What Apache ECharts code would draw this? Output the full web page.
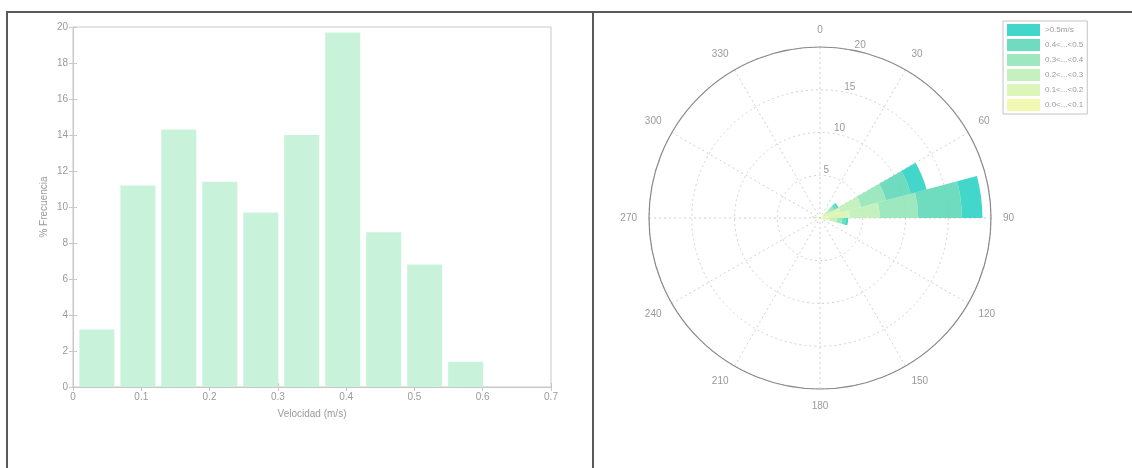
<!DOCTYPE html>
<html>
<head>
<meta charset="utf-8">
<script src="https://cdn.jsdelivr.net/npm/echarts@6/dist/echarts.min.js"></script>
<style>
  html, body { margin: 0; padding: 0; background: #ffffff; }
  #chart { width: 1132px; height: 468px; }
</style>
</head>
<body>
<div id="chart"></div>
<script>
// Histogram: speed bin centres (m/s) and percentage frequency
const speedBins = [0.035, 0.095, 0.155, 0.215, 0.275, 0.335, 0.395, 0.455, 0.515, 0.575];
const freqPct = [3.2, 11.2, 14.3, 11.4, 9.7, 14.0, 19.7, 8.6, 6.8, 1.4];

// Wind rose: 15-degree direction sectors
const directions = ['0', '15', '30', '45', '60', '75', '90', '105', '120', '135', '150', '165',
                    '180', '195', '210', '225', '240', '255', '270', '285', '300', '315', '330', '345'];
// Speed classes, innermost first (stacked outward)
const classNames = ['0.0<...<0.1', '0.1<...<0.2', '0.2<...<0.3', '0.3<...<0.4', '0.4<...<0.5', '>0.5m/s'];
const cls00to01 = [0, 0, 0, 0.2, 0.5, 1.0, 0.3, 0, 0, 0, 0, 0, 0, 0, 0, 0, 0, 0, 0.4, 0, 0, 0, 0, 0];
const cls01to02 = [0, 0, 0, 0.6, 2.0, 2.5, 0.9, 0, 0, 0, 0, 0, 0, 0, 0, 0, 0, 0, 0.3, 0, 0, 0, 0, 0];
const cls02to03 = [0, 0, 0, 0.6, 2.5, 3.5, 0.8, 0, 0, 0, 0, 0, 0, 0, 0, 0, 0, 0, 0.2, 0, 0, 0, 0, 0];
const cls03to04 = [0, 0, 0, 0.5, 3.0, 4.5, 0.6, 0, 0, 0, 0, 0, 0, 0, 0, 0, 0, 0, 0, 0, 0, 0, 0, 0];
const cls04to05 = [0, 0, 0, 0.4, 3.0, 5.1, 0.4, 0, 0, 0, 0, 0, 0, 0, 0, 0, 0, 0, 0, 0, 0, 0, 0, 0];
const cls05up   = [0, 0, 0, 0.2, 1.9, 2.4, 0.3, 0, 0, 0, 0, 0, 0, 0, 0, 0, 0, 0, 0, 0, 0, 0, 0, 0];
const classValues = [cls00to01, cls01to02, cls02to03, cls03to04, cls04to05, cls05up];
const classColors = ['#eef7a8', '#d8f4b0', '#bff0b8', '#93e5b8', '#5fd8b8', '#2fd1c4'];

const textGray = '#9a9a9a';
const font = 'Liberation Sans';
const roseCenter = [820, 218];
const roseRadius = 171;

const chart = echarts.init(document.getElementById('chart'), null, { renderer: 'canvas' });

const roseSeries = classNames.map((name, i) => ({
  name: name,
  type: 'bar',
  coordinateSystem: 'polar',
  polarIndex: 1,
  stack: 'rose',
  barCategoryGap: '0%',
  itemStyle: { color: classColors[i], opacity: 0.9 },
  emphasis: { disabled: true },
  data: classValues[i]
}));

chart.setOption({
  animation: false,
  textStyle: { fontFamily: font },
  graphic: [
    { type: 'line', shape: { x1: 6, y1: 12, x2: 1132, y2: 12 }, style: { stroke: '#5a5a5a', lineWidth: 2 } },
    { type: 'line', shape: { x1: 7, y1: 12, x2: 7, y2: 468 }, style: { stroke: '#5a5a5a', lineWidth: 2 } },
    { type: 'line', shape: { x1: 593, y1: 12, x2: 593, y2: 468 }, style: { stroke: '#5a5a5a', lineWidth: 2 } }
  ],
  grid: {
    left: 73, right: 581, top: 27, bottom: 81,
    show: true, borderColor: '#c8c8c8', borderWidth: 1
  },
  xAxis: [
    {
      type: 'value', min: 0, max: 0.7, interval: 0.1,
      name: 'Velocidad (m/s)', nameLocation: 'middle', nameGap: 22,
      nameTextStyle: { color: textGray, fontSize: 10, fontFamily: font },
      axisLine: { show: true, lineStyle: { color: '#c8c8c8' } },
      axisTick: { show: true, inside: true, length: 4, lineStyle: { color: '#c8c8c8' } },
      axisLabel: { color: textGray, fontSize: 10, margin: 5 },
      splitLine: { show: false }
    },
    {
      type: 'value', min: 0, max: 0.7, interval: 0.1, position: 'top',
      axisLine: { show: false },
      axisTick: { show: true, inside: true, length: 4, lineStyle: { color: '#c8c8c8' } },
      axisLabel: { show: false }, splitLine: { show: false }
    }
  ],
  yAxis: [
    {
      type: 'value', min: 0, max: 20, interval: 2,
      name: '% Frecuencia', nameLocation: 'middle', nameGap: 24,
      nameTextStyle: { color: textGray, fontSize: 10, fontFamily: font },
      axisLine: { show: true, lineStyle: { color: '#c8c8c8' } },
      axisTick: { show: true, inside: true, length: 4, lineStyle: { color: '#c8c8c8' } },
      axisLabel: { color: textGray, fontSize: 10, margin: 5 },
      splitLine: { show: false }
    },
    {
      type: 'value', min: 0, max: 20, interval: 2, position: 'right',
      axisLine: { show: false },
      axisTick: { show: true, inside: true, length: 4, lineStyle: { color: '#c8c8c8' } },
      axisLabel: { show: false }, splitLine: { show: false }
    }
  ],
  polar: [
    { center: roseCenter, radius: roseRadius },
    { center: roseCenter, radius: roseRadius },
    { center: roseCenter, radius: roseRadius }
  ],
  angleAxis: [
    {
      polarIndex: 0, type: 'value', min: 0, max: 360, interval: 30,
      startAngle: 90, clockwise: true,
      axisLine: { show: true, lineStyle: { color: '#8a8a8a', width: 1.2 } },
      axisTick: { show: false },
      axisLabel: {
        color: textGray, fontSize: 10, margin: 12,
        formatter: v => (v === 360 ? '' : String(v))
      },
      splitLine: { show: true, lineStyle: { color: '#d0d0d0', type: [2, 3], width: 1 } }
    },
    {
      polarIndex: 1, type: 'category', data: directions,
      startAngle: 90, clockwise: true, boundaryGap: true,
      axisLine: { show: false }, axisTick: { show: false },
      axisLabel: { show: false }, splitLine: { show: false }
    },
    {
      polarIndex: 2, type: 'value', min: 0, max: 360,
      startAngle: 76, clockwise: true,
      axisLine: { show: false }, axisTick: { show: false },
      axisLabel: { show: false }, splitLine: { show: false }
    }
  ],
  radiusAxis: [
    {
      polarIndex: 0, type: 'value', min: 0, max: 20, interval: 5,
      axisLine: { show: false }, axisTick: { show: false },
      axisLabel: { show: false },
      splitLine: { show: true, lineStyle: { color: '#d0d0d0', type: [2, 3], width: 1 } }
    },
    {
      polarIndex: 1, type: 'value', min: 0, max: 20,
      axisLine: { show: false }, axisTick: { show: false },
      axisLabel: { show: false }, splitLine: { show: false }
    },
    {
      polarIndex: 2, type: 'value', min: 0, max: 20, interval: 5,
      axisLine: { show: false }, axisTick: { show: false },
      axisLabel: {
        color: textGray, fontSize: 10, margin: 7, verticalAlign: 'bottom', align: 'left',
        formatter: v => (v === 0 ? '' : String(v))
      },
      splitLine: { show: false }
    }
  ],
  legend: {
    orient: 'vertical',
    left: 1003, top: 21,
    data: classNames.slice().reverse(),
    itemWidth: 33, itemHeight: 12, itemGap: 3,
    borderColor: '#c4c4c4', borderWidth: 1, padding: [3, 4, 3, 4],
    textStyle: { color: textGray, fontSize: 8, fontFamily: font },
    icon: 'rect'
  },
  series: [
    {
      type: 'bar',
      xAxisIndex: 0, yAxisIndex: 0,
      barWidth: 35,
      itemStyle: { color: '#c9f2da' },
      emphasis: { disabled: true },
      data: speedBins.map((x, i) => [x, freqPct[i]])
    }
  ].concat(roseSeries)
});
</script>
</body>
</html>
